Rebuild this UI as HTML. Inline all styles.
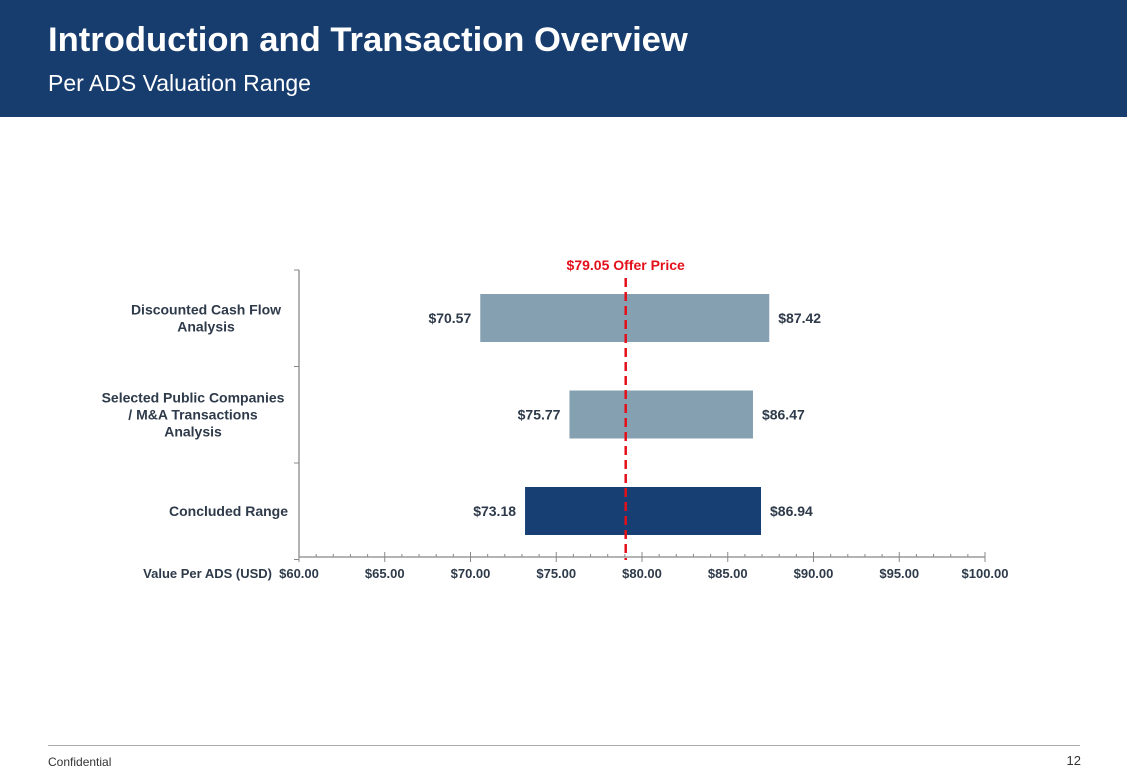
<!DOCTYPE html>
<html><head><meta charset="utf-8"><style>
body{margin:0;width:1127px;height:780px;position:relative;background:#fff;font-family:"Liberation Sans",Arial,sans-serif;overflow:hidden}
.hdr{position:absolute;left:0;top:0;width:1127px;height:117px;background:#173c6e}
.t1{position:absolute;left:48px;top:21px;color:#fff;font-weight:bold;font-size:34.6px}
.t2{position:absolute;left:48px;top:70px;color:#fff;font-size:23px}
.foot{position:absolute;left:48px;top:745px;width:1032px;border-top:1px solid #aaa}
.conf{position:absolute;left:48px;top:755px;font-size:12px;color:#333}
.pg{position:absolute;right:46px;top:753px;font-size:13px;color:#333}
</style></head><body>
<div class="hdr">
<div class="t1">Introduction and Transaction Overview</div>
<div class="t2">Per ADS Valuation Range</div></div>
<svg id="chart" width="1127" height="780" style="position:absolute;left:0;top:0"></svg>
<div class="foot"></div>
<div class="conf">Confidential</div>
<div class="pg">12</div>
<script>
const categories=[["Discounted Cash Flow","Analysis"],["Selected Public Companies","/ M&A Transactions","Analysis"],["Concluded Range"]];
const lows=[70.57,75.77,73.18];
const highs=[87.42,86.47,86.94];
const offerPrice=79.05;
const ticks=[60,65,70,75,80,85,90,95,100];
const NS="http://www.w3.org/2000/svg",svg=document.getElementById('chart');
const x=v=>299+(v-60)*686/40;
const rowTop=i=>270+i*96.5;
function el(t,a,txt){const e=document.createElementNS(NS,t);for(const k in a)e.setAttribute(k,a[k]);if(txt!=null)e.textContent=txt;svg.appendChild(e);return e;}
const ax=el('path',{d:'M299 270V557H985',stroke:'#888',fill:'none','stroke-width':1.3});

for(let i=0;i<=3;i++){const t=el('line',{x1:294,x2:299,y1:270+i*96.5,y2:270+i*96.5,stroke:'#888'});}
for(let v=60;v<=100;v++){const maj=v%5==0;const t=el('line',{x1:x(v),x2:x(v),y1:maj?552:554,y2:maj?562:557,stroke:'#888'});}
ticks.forEach(v=>{const t=el('text',{x:x(v),y:578,'text-anchor':'middle','font-size':13,'font-weight':'bold',fill:'#2e3a4a'},'$'+v.toFixed(2));});
const xt=el('text',{x:272,y:578,'text-anchor':'end','font-size':13,'font-weight':'bold',fill:'#2e3a4a'},'Value Per ADS (USD)');

categories.forEach((c,i)=>{
 const cy=rowTop(i)+48;
 const b=el('rect',{x:x(lows[i]),y:cy-24,width:x(highs[i])-x(lows[i]),height:48,fill:i==2?'#173f73':'#84a0b1'});
 
 const l=el('text',{x:x(lows[i])-9,y:cy+5,'text-anchor':'end','font-size':14,'font-weight':'bold',fill:'#2e3a4a'},'$'+lows[i].toFixed(2));
 
 const h=el('text',{x:x(highs[i])+9,y:cy+5,'font-size':14,'font-weight':'bold',fill:'#2e3a4a'},'$'+highs[i].toFixed(2));
 
 const n=c.length;
 c.forEach((s,j)=>{const t=el('text',{x:i==0?206:(i==1?193:226),y:cy+5+(j-(n-1)/2)*17,'text-anchor':'middle','font-size':14,'font-weight':'bold',fill:'#2e3a4a'},s);
 if(i==2)t.setAttribute('x',288),t.setAttribute('text-anchor','end');
 });
});
const ol=el('line',{x1:x(offerPrice),x2:x(offerPrice),y1:278,y2:560,stroke:'#e3101a','stroke-width':2.5,'stroke-dasharray':'9,5'});

const ot=el('text',{x:x(offerPrice),y:270,'text-anchor':'middle','font-size':14,'font-weight':'bold',fill:'#e3101a'},'$'+offerPrice.toFixed(2)+' Offer Price');

</script>
</body></html>
